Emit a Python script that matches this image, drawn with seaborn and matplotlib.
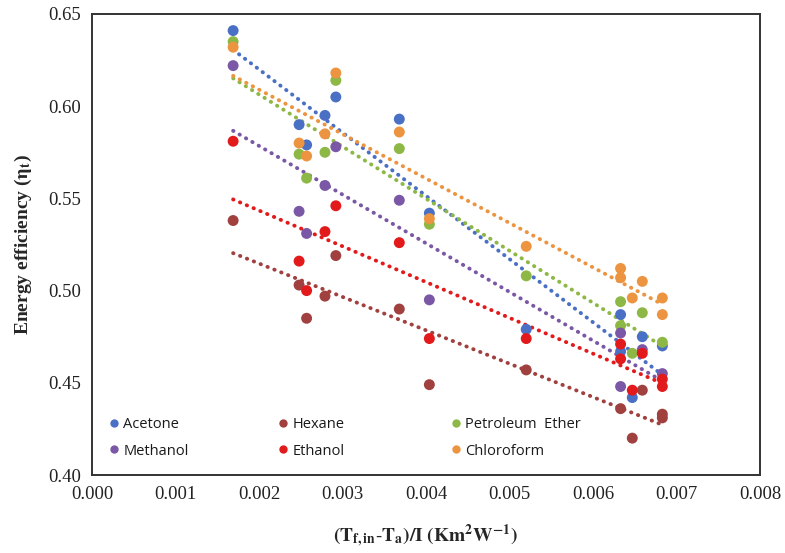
import matplotlib
matplotlib.use("Agg")
import matplotlib.pyplot as plt
import seaborn as sns
import pandas as pd
from matplotlib.lines import Line2D

# ---- data ----
series_names = ["Acetone", "Hexane", "Petroleum  Ether", "Methanol", "Ethanol", "Chloroform"]

acetone_x = [0.00169, 0.00248, 0.00257, 0.00279, 0.00292, 0.00368, 0.00404, 0.00520, 0.00633, 0.00633, 0.00647, 0.00659, 0.00683]
acetone_y = [0.641, 0.590, 0.579, 0.595, 0.605, 0.593, 0.542, 0.479, 0.487, 0.467, 0.442, 0.475, 0.470]

hexane_x = [0.00169, 0.00248, 0.00257, 0.00279, 0.00292, 0.00368, 0.00404, 0.00520, 0.00633, 0.00647, 0.00659, 0.00683, 0.00683]
hexane_y = [0.538, 0.503, 0.485, 0.497, 0.519, 0.490, 0.449, 0.457, 0.436, 0.420, 0.446, 0.433, 0.431]

petroleum_x = [0.00169, 0.00248, 0.00257, 0.00279, 0.00292, 0.00368, 0.00404, 0.00520, 0.00633, 0.00633, 0.00647, 0.00659, 0.00683]
petroleum_y = [0.635, 0.574, 0.561, 0.575, 0.614, 0.577, 0.536, 0.508, 0.494, 0.481, 0.466, 0.488, 0.472]

methanol_x = [0.00169, 0.00248, 0.00257, 0.00279, 0.00292, 0.00368, 0.00404, 0.00633, 0.00633, 0.00659, 0.00683]
methanol_y = [0.622, 0.543, 0.531, 0.557, 0.578, 0.549, 0.495, 0.477, 0.448, 0.468, 0.455]

ethanol_x = [0.00169, 0.00248, 0.00257, 0.00279, 0.00292, 0.00368, 0.00404, 0.00520, 0.00633, 0.00633, 0.00647, 0.00659, 0.00683, 0.00683]
ethanol_y = [0.581, 0.516, 0.500, 0.532, 0.546, 0.526, 0.474, 0.474, 0.471, 0.463, 0.446, 0.466, 0.452, 0.448]

chloroform_x = [0.00169, 0.00248, 0.00257, 0.00279, 0.00292, 0.00368, 0.00404, 0.00520, 0.00633, 0.00633, 0.00647, 0.00659, 0.00683, 0.00683]
chloroform_y = [0.632, 0.580, 0.573, 0.585, 0.618, 0.586, 0.539, 0.524, 0.512, 0.507, 0.496, 0.505, 0.496, 0.487]

x_ticks = [0.000, 0.001, 0.002, 0.003, 0.004, 0.005, 0.006, 0.007, 0.008]
y_ticks = [0.40, 0.45, 0.50, 0.55, 0.60, 0.65]

colors = {
    "Acetone": "#4A70C6",
    "Hexane": "#A0413F",
    "Petroleum  Ether": "#8DB845",
    "Methanol": "#7A58A5",
    "Ethanol": "#E31A1C",
    "Chloroform": "#EC943F",
}

data = {
    "Acetone": (acetone_x, acetone_y),
    "Hexane": (hexane_x, hexane_y),
    "Petroleum  Ether": (petroleum_x, petroleum_y),
    "Methanol": (methanol_x, methanol_y),
    "Ethanol": (ethanol_x, ethanol_y),
    "Chloroform": (chloroform_x, chloroform_y),
}

rows = []
for name in series_names:
    xs, ys = data[name]
    for xv, yv in zip(xs, ys):
        rows.append({"x": xv, "y": yv, "solvent": name})
df = pd.DataFrame(rows)

# ---- figure ----
sns.set_style("white")
plt.rcParams["mathtext.fontset"] = "stix"
plt.rcParams["font.family"] = ["Liberation Serif", "DejaVu Serif"]

fig, ax = plt.subplots(figsize=(7.85, 5.53), dpi=100)
fig.subplots_adjust(left=0.1172, right=0.9682, top=0.9747, bottom=0.1410)

# trend lines (linear fits)
for name in series_names:
    sub = df[df["solvent"] == name]
    sns.regplot(data=sub, x="x", y="y", ax=ax, scatter=False, ci=None,
                truncate=True,
                line_kws=dict(color=colors[name], lw=2.8,
                              linestyle=(0, (0.1, 1.8)),
                              dash_capstyle="round"))

# points
sns.scatterplot(data=df, x="x", y="y", hue="solvent", hue_order=series_names,
                palette=colors, s=62, edgecolor="none", legend=False, ax=ax,
                zorder=3)

ax.set_xlim(0, 0.008)
ax.set_ylim(0.40, 0.65)
ax.set_xticks(x_ticks)
ax.set_xticklabels([f"{v:.3f}" for v in x_ticks])
ax.set_yticks(y_ticks)
ax.set_yticklabels([f"{v:.2f}" for v in y_ticks])
ax.tick_params(axis="both", length=0, labelsize=13.5, pad=8, colors="#222222")

for sp in ax.spines.values():
    sp.set_visible(True)
    sp.set_color("#333333")
    sp.set_linewidth(1.4)

ax.set_xlabel(r"$\mathbf{(T_{f,in}\text{-}T_a)/I\ (Km^2W^{-1})}$",
              fontsize=14, labelpad=14)
ax.set_ylabel(r"Energy efficiency ($\mathbf{\eta_t}$)", fontsize=14,
              fontweight="bold", labelpad=10)

# legend: three columns placed inside lower-left
legend_cols = [["Acetone", "Methanol"], ["Hexane", "Ethanol"],
               ["Petroleum  Ether", "Chloroform"]]
col_x = [0.026, 0.280, 0.538]
for i, (names, cx) in enumerate(zip(legend_cols, col_x)):
    handles = [Line2D([0], [0], marker="o", linestyle="none",
                      markerfacecolor=colors[n], markeredgecolor="none",
                      markersize=6) for n in names]
    leg = ax.legend(handles, names, loc="upper left",
                    bbox_to_anchor=(cx, 0.126), frameon=False,
                    handlelength=0.6, handletextpad=0.35, labelspacing=0.8,
                    borderaxespad=0, borderpad=0,
                    prop={"family": "Open Sans", "size": 10.5})
    for t in leg.get_texts():
        t.set_color("#1a1a1a")
    if i < 2:
        ax.add_artist(leg)

fig.savefig("out.png", dpi=100)
